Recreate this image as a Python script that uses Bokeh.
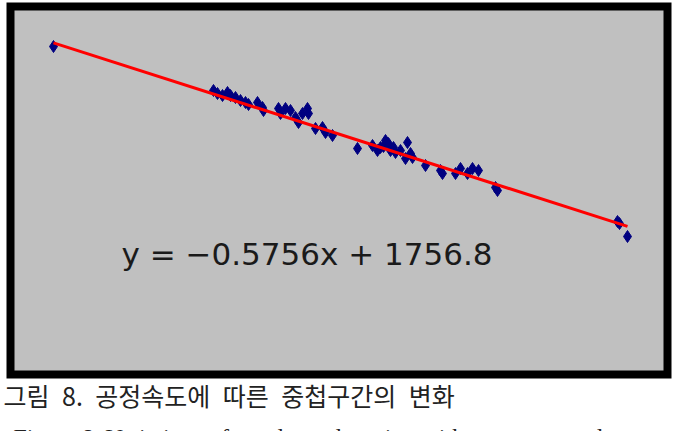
from bokeh.plotting import figure
from bokeh.layouts import column
from bokeh.models import Label, Range1d, Title
from bokeh.core.properties import value
from bokeh.embed import file_html
from bokeh.resources import INLINE

# process speed (x) and overlap length (y)
speed = [1202, 1522, 1530, 1540, 1550, 1556, 1566, 1576, 1586, 1592, 1610, 1620,
         1622, 1652, 1656, 1666, 1676, 1686, 1692, 1700, 1710, 1712, 1726, 1740,
         1746, 1760, 1810, 1840, 1850, 1856, 1862, 1866, 1872, 1876, 1882, 1886,
         1896, 1906, 1910, 1916, 1920, 1946, 1976, 1980, 2006, 2016, 2030, 2040,
         2052, 2086, 2090, 2330, 2334, 2350]
overlap = [1051.7, 893.3, 882.5, 875.3, 886.1, 875.3, 868.1, 857.3, 850.1, 842.9,
           850.1, 832.1, 821.3, 828.5, 810.5, 828.5, 821.3, 796.1, 778.1, 810.5,
           828.5, 810.5, 756.5, 760.1, 742.1, 731.3, 684.5, 695.3, 677.3, 688.1,
           691.7, 713.3, 702.5, 677.3, 688.1, 670.1, 677.3, 648.5, 706.1, 666.5,
           652.1, 623.3, 605.3, 594.5, 594.5, 612.5, 594.5, 612.5, 605.3, 544.1,
           533.3, 421.7, 414.5, 367.7]

slope = -0.5756
intercept = 1756.8
equation = "y = \u22120.5756x + 1756.8"
caption_ko = "그림\u20028.\u2002공정속도에\u2002따른\u2002중첩구간의\u2002변화"
caption_en = "Figure 8.  Variations of overlapped section with process speed"

x_fit = [min(speed), max(speed)]
y_fit = [slope * v + intercept for v in x_fit]

p = figure(width=685, height=413, output_backend="svg", toolbar_location=None,
           x_range=Range1d(1116, 2430), y_range=Range1d(-129.1, 1195.7),
           min_border_left=10, min_border_right=18, min_border_top=6,
           min_border_bottom=39)
p.axis.visible = False
p.grid.visible = False
p.background_fill_color = "#c0c0c0"
p.border_fill_color = "white"
p.outline_line_color = "black"
p.outline_line_width = 8
p.outline_line_alpha = 1.0
p.outline_line_join = "miter"

p.scatter(speed, overlap, marker="diamond", size=12, fill_color="#000080",
          line_color="#000080")
p.line(x_fit, y_fit, line_color="#ff0000", line_width=3)

p.add_layout(Label(x=1338, y=306, text=equation, text_font="DejaVu Sans",
                   text_font_size="31px", text_color="#1a1a1a",
                   text_baseline="alphabetic"))

p.add_layout(Title(text=caption_ko, align="left", offset=-7, standoff=1,
                   text_font="Noto Sans CJK KR", text_font_size="25px",
                   text_font_style="normal", text_color="#222222"), "below")

c = figure(width=685, height=18, output_backend="svg", toolbar_location=None,
           x_range=Range1d(0, 685), y_range=Range1d(0, 18), min_border=0)
c.axis.visible = False
c.grid.visible = False
c.outline_line_color = None
c.text(x=[3], y=[-5], text=[caption_en], text_font=value("Liberation Serif"),
       text_font_size="24px", text_baseline="alphabetic", text_color="#222222")

layout = column(p, c, spacing=0)
open("out.html", "w").write(file_html(layout, INLINE))
